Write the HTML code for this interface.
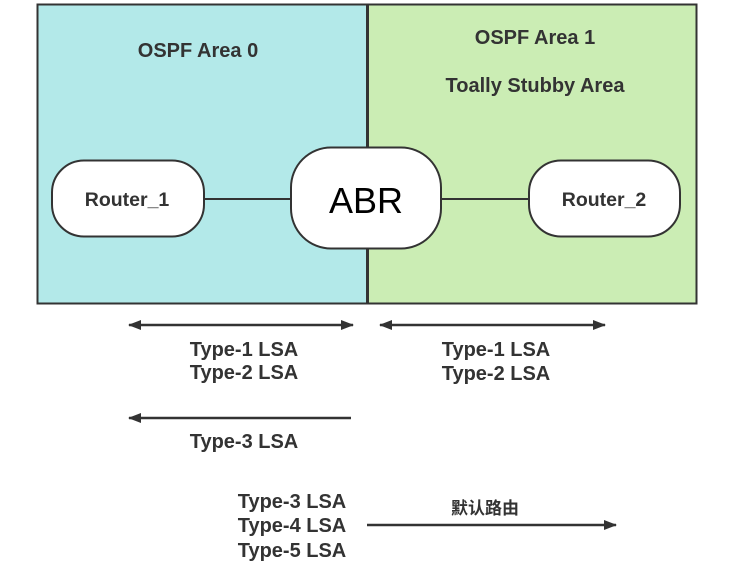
<!DOCTYPE html>
<html><head><meta charset="utf-8"><style>
html,body{margin:0;padding:0;background:#fff;}
svg{display:block;}
text{font-family:"Liberation Sans","Noto Sans CJK SC",sans-serif;fill:#333;font-weight:bold;}
</style></head><body>
<svg width="733" height="573" viewBox="0 0 733 573" xmlns="http://www.w3.org/2000/svg">
<defs>
<marker id="ah" markerWidth="13" markerHeight="10" refX="12" refY="5" orient="auto-start-reverse" markerUnits="userSpaceOnUse"><path d="M0,0 L13,5 L0,10 Z" fill="#333"/></marker>
</defs>
<rect x="37.5" y="4.5" width="330" height="299" fill="#b3e9e9" stroke="#333" stroke-width="2"/>
<rect x="367.5" y="4.5" width="329" height="299" fill="#cbedb4" stroke="#333" stroke-width="2"/>
<line x1="367.5" y1="4" x2="367.5" y2="304" stroke="#333" stroke-width="3"/>
<line x1="204" y1="199" x2="291" y2="199" stroke="#333" stroke-width="2"/>
<line x1="441" y1="199" x2="529" y2="199" stroke="#333" stroke-width="2"/>
<rect x="52" y="160.5" width="152" height="76" rx="32" fill="#fff" stroke="#333" stroke-width="2"/>
<rect x="291" y="147.5" width="150" height="101" rx="40" fill="#fff" stroke="#333" stroke-width="2"/>
<rect x="529" y="160.5" width="151" height="76" rx="32" fill="#fff" stroke="#333" stroke-width="2"/>
<text x="198" y="57" font-size="20" text-anchor="middle">OSPF Area 0</text>
<text x="535" y="44" font-size="20" text-anchor="middle">OSPF Area 1</text>
<text x="535" y="92" font-size="20" text-anchor="middle">Toally Stubby Area</text>
<text x="127" y="206" font-size="19.5" text-anchor="middle">Router_1</text>
<text x="366" y="213" font-size="36" text-anchor="middle" style="font-weight:normal;fill:#000">ABR</text>
<text x="604" y="206" font-size="19.5" text-anchor="middle">Router_2</text>
<line x1="129" y1="325" x2="353" y2="325" stroke="#333" stroke-width="2.5" marker-start="url(#ah)" marker-end="url(#ah)"/>
<line x1="380" y1="325" x2="605" y2="325" stroke="#333" stroke-width="2.5" marker-start="url(#ah)" marker-end="url(#ah)"/>
<line x1="351" y1="418" x2="129" y2="418" stroke="#333" stroke-width="2.5" marker-end="url(#ah)"/>
<line x1="367" y1="525" x2="616" y2="525" stroke="#333" stroke-width="2.5" marker-end="url(#ah)"/>
<g font-size="20" text-anchor="middle">
<text x="244" y="356">Type-1 LSA</text>
<text x="244" y="379">Type-2 LSA</text>
<text x="496" y="356">Type-1 LSA</text>
<text x="496" y="380">Type-2 LSA</text>
<text x="244" y="448">Type-3 LSA</text>
<text x="292" y="508">Type-3 LSA</text>
<text x="292" y="532">Type-4 LSA</text>
<text x="292" y="557">Type-5 LSA</text>
<text x="485" y="514" font-size="17">默认路由</text>
</g>
</svg>
</body></html>
